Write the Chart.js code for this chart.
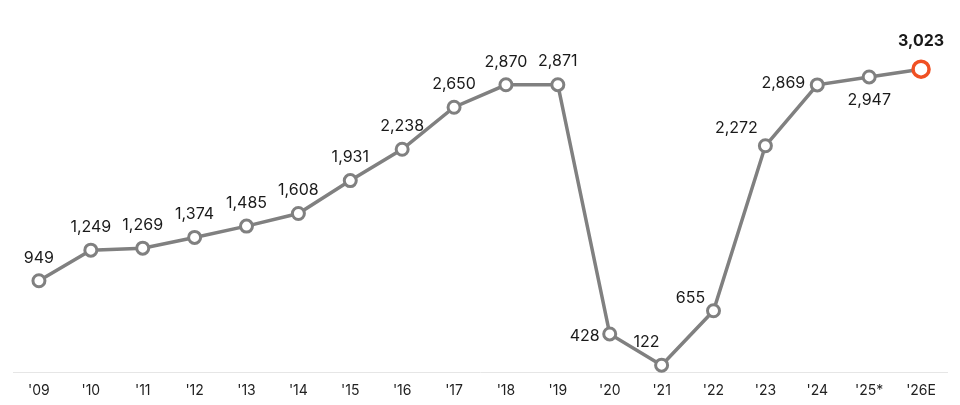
<!DOCTYPE html>
<html>
<head>
<meta charset="utf-8">
<script src="https://cdn.jsdelivr.net/npm/chart.js@4/dist/chart.umd.min.js"></script>
<style>
  html, body { margin: 0; padding: 0; background: #fff; }
  #wrap { width: 960px; height: 405px; }
</style>
</head>
<body>
<div id="wrap"><canvas id="myChart"></canvas></div>
<script>
'use strict';
//data
var years = ['\'09', '\'10', '\'11', '\'12', '\'13', '\'14', '\'15', '\'16', '\'17', '\'18', '\'19', '\'20', '\'21', '\'22', '\'23', '\'24', '\'25*', '\'26E'];
var values = [949, 1249, 1269, 1374, 1485, 1608, 1931, 2238, 2650, 2870, 2871, 428, 122, 655, 2272, 2869, 2947, 3023];

//where each value label goes
var labelSpots = ['up', 'up', 'up', 'up', 'up', 'up', 'up', 'up', 'up', 'up', 'up', 'left', 'upLeft', 'upLeft2', 'upLeft3', 'left2', 'down', 'upBold'];

var GRAY = '#808080';
var ORANGE = '#f05023';

//last point (estimate) stands out
var lastIdx = values.length - 1;
var pointColors = values.map(function(v, i){
  return i === lastIdx ? ORANGE : GRAY;
});
var pointSizes = values.map(function(v, i){
  return i === lastIdx ? 8 : 6;
});
var pointBorders = values.map(function(v, i){
  return i === lastIdx ? 3.5 : 3;
});

//value label plugin
var valueLabels = {
  id: 'valueLabels',
  afterDatasetsDraw: function(chart){
    var ctx = chart.ctx;
    var meta = chart.getDatasetMeta(0);
    ctx.save();
    ctx.fillStyle = '#1a1a1a';
    ctx.textBaseline = 'middle';
    for(var i = 0; i < meta.data.length; i++){
      var pt = meta.data[i];
      var txt = values[i].toLocaleString('en-US');
      var x = pt.x, y = pt.y;
      ctx.font = '16px Inter';
      ctx.textAlign = 'center';
      var spot = labelSpots[i];
      if(spot === 'up'){
        y -= 23;
      }else if(spot === 'left'){
        ctx.textAlign = 'right';
        x -= 10; y += 2;
      }else if(spot === 'upLeft'){
        x -= 15; y -= 23;
      }else if(spot === 'upLeft2'){
        x -= 23; y -= 13;
      }else if(spot === 'upLeft3'){
        x -= 29; y -= 18;
      }else if(spot === 'left2'){
        ctx.textAlign = 'right';
        x -= 12; y -= 2;
      }else if(spot === 'down'){
        y += 23;
      }else if(spot === 'upBold'){
        ctx.font = 'bold 16px Inter';
        y -= 28;
      }
      ctx.fillText(txt, x, y);
    }
    ctx.restore();
  }
};

var ctx = document.getElementById('myChart').getContext('2d');

new Chart(ctx, {
  type: 'line',
  data: {
    labels: years,
    datasets: [{
      data: values,
      borderColor: GRAY,
      borderWidth: 3.5,
      pointRadius: pointSizes,
      pointHoverRadius: pointSizes,
      pointBorderWidth: pointBorders,
      pointBackgroundColor: '#fff',
      pointBorderColor: pointColors,
      tension: 0,
      clip: false
    }]
  },
  options: {
    responsive: true,
    maintainAspectRatio: false,
    animation: false,
    layout: { padding: { top: 20, left: 13, right: 13, bottom: 4 } },
    plugins: {
      legend: { display: false },
      tooltip: { enabled: false }
    },
    scales: {
      x: {
        offset: true,
        grid: { display: false },
        border: { display: true, color: '#e6e6e6', width: 1 },
        ticks: {
          color: '#222',
          font: { family: 'Inter', size: 14 },
          padding: 2
        }
      },
      y: {
        display: false,
        min: 53,
        max: 3505
      }
    }
  },
  plugins: [valueLabels]
});
</script>
</body>
</html>
